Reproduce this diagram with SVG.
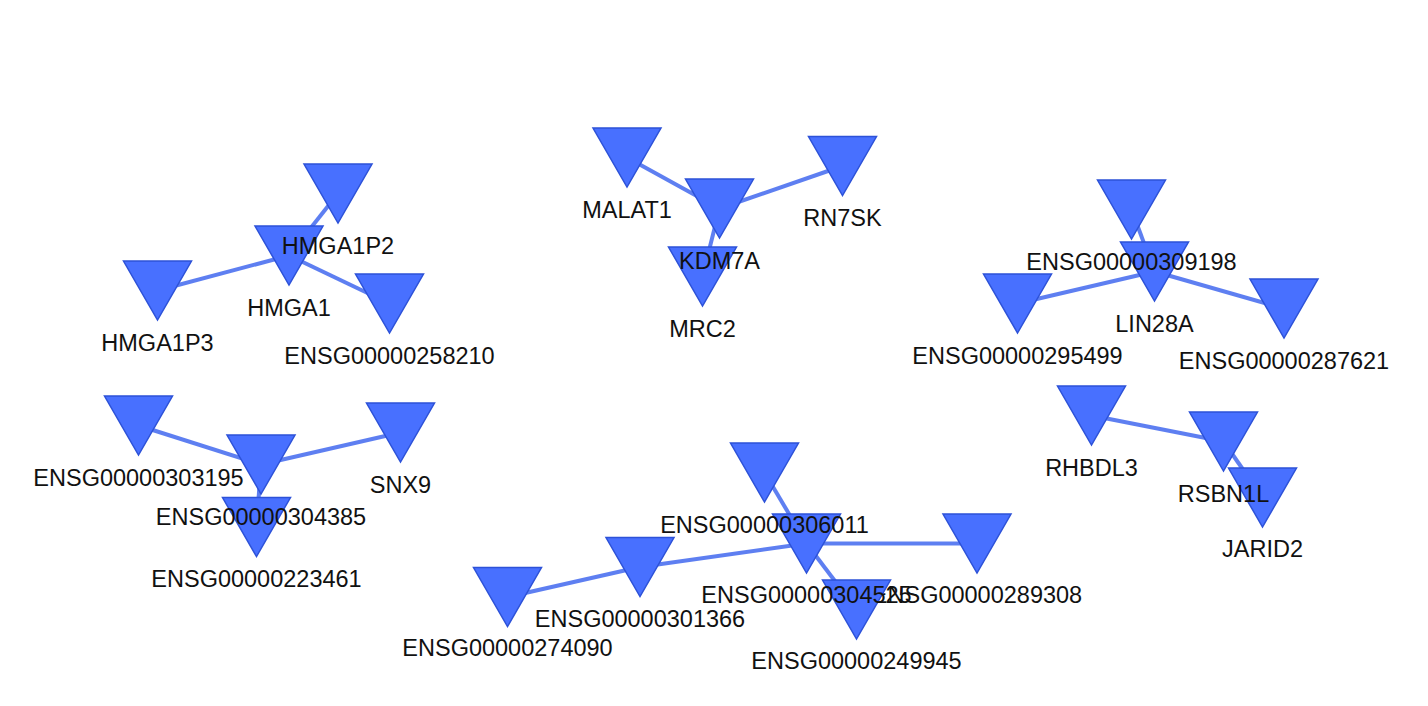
<svg xmlns="http://www.w3.org/2000/svg" xmlns:xlink="http://www.w3.org/1999/xlink" width="1428" height="706" viewBox="0 0 1428 706">
<style>
.edge{stroke:#5578f0;stroke-width:4;stroke-linecap:butt;fill:none;opacity:0.95}
.tri{fill:#4870ff;stroke:#2d52d8;stroke-width:1.5;stroke-linejoin:miter}
.lbl{font-family:"Liberation Sans",Arial,sans-serif;font-size:23.5px;fill:#111;text-anchor:middle}
</style>
<defs>
<path id="tri" d="M-34,-29.5 L34,-29.5 L0,29.5 Z"/>
</defs>
<rect width="1428" height="706" fill="#ffffff"/>
<g id="connectors">
<line class="edge" x1="289" y1="255.5" x2="338" y2="193.5"/>
<line class="edge" x1="289" y1="255.5" x2="157.5" y2="290.5"/>
<line class="edge" x1="289" y1="255.5" x2="389.5" y2="303.5"/>
<line class="edge" x1="719.5" y1="208.5" x2="627" y2="157.5"/>
<line class="edge" x1="719.5" y1="208.5" x2="842.5" y2="166"/>
<line class="edge" x1="719.5" y1="208.5" x2="702.5" y2="276.5"/>
<line class="edge" x1="1154.5" y1="271.5" x2="1131.5" y2="209.5"/>
<line class="edge" x1="1154.5" y1="271.5" x2="1017.5" y2="303.5"/>
<line class="edge" x1="1154.5" y1="271.5" x2="1284" y2="308.5"/>
<line class="edge" x1="261" y1="464.5" x2="138.5" y2="425.5"/>
<line class="edge" x1="261" y1="464.5" x2="400.5" y2="432.5"/>
<line class="edge" x1="261" y1="464.5" x2="256.5" y2="527"/>
<line class="edge" x1="806.5" y1="543.5" x2="764.5" y2="472.5"/>
<line class="edge" x1="806.5" y1="543.5" x2="977" y2="543.5"/>
<line class="edge" x1="806.5" y1="543.5" x2="856.5" y2="609.5"/>
<line class="edge" x1="806.5" y1="543.5" x2="640" y2="567"/>
<line class="edge" x1="640" y1="567" x2="507.5" y2="597"/>
<line class="edge" x1="1223.5" y1="441.5" x2="1091.5" y2="415.5"/>
<line class="edge" x1="1223.5" y1="441.5" x2="1262.5" y2="497.5"/>
</g>
<g id="n-HMGA1"><use href="#tri" class="tri" x="289" y="255.5"/><text class="lbl" x="289" y="315.5">HMGA1</text></g>
<g id="n-HMGA1P2"><use href="#tri" class="tri" x="338" y="193.5"/><text class="lbl" x="338" y="253.5">HMGA1P2</text></g>
<g id="n-HMGA1P3"><use href="#tri" class="tri" x="157.5" y="290.5"/><text class="lbl" x="157.5" y="350.5">HMGA1P3</text></g>
<g id="n-ENSG00000258210"><use href="#tri" class="tri" x="389.5" y="303.5"/><text class="lbl" x="389.5" y="363.5">ENSG00000258210</text></g>
<g id="n-MALAT1"><use href="#tri" class="tri" x="627" y="157.5"/><text class="lbl" x="627" y="217.5">MALAT1</text></g>
<g id="n-RN7SK"><use href="#tri" class="tri" x="842.5" y="166"/><text class="lbl" x="842.5" y="226">RN7SK</text></g>
<g id="n-MRC2"><use href="#tri" class="tri" x="702.5" y="276.5"/><text class="lbl" x="702.5" y="336.5">MRC2</text></g>
<g id="n-KDM7A"><use href="#tri" class="tri" x="719.5" y="208.5"/><text class="lbl" x="719.5" y="268.5">KDM7A</text></g>
<g id="n-LIN28A"><use href="#tri" class="tri" x="1154.5" y="271.5"/><text class="lbl" x="1154.5" y="331.5">LIN28A</text></g>
<g id="n-ENSG00000309198"><use href="#tri" class="tri" x="1131.5" y="209.5"/><text class="lbl" x="1131.5" y="269.5">ENSG00000309198</text></g>
<g id="n-ENSG00000295499"><use href="#tri" class="tri" x="1017.5" y="303.5"/><text class="lbl" x="1017.5" y="363.5">ENSG00000295499</text></g>
<g id="n-ENSG00000287621"><use href="#tri" class="tri" x="1284" y="308.5"/><text class="lbl" x="1284" y="368.5">ENSG00000287621</text></g>
<g id="n-ENSG00000303195"><use href="#tri" class="tri" x="138.5" y="425.5"/><text class="lbl" x="138.5" y="485.5">ENSG00000303195</text></g>
<g id="n-SNX9"><use href="#tri" class="tri" x="400.5" y="432.5"/><text class="lbl" x="400.5" y="492.5">SNX9</text></g>
<g id="n-ENSG00000223461"><use href="#tri" class="tri" x="256.5" y="527"/><text class="lbl" x="256.5" y="587">ENSG00000223461</text></g>
<g id="n-ENSG00000304385"><use href="#tri" class="tri" x="261" y="464.5"/><text class="lbl" x="261" y="524.5">ENSG00000304385</text></g>
<g id="n-ENSG00000274090"><use href="#tri" class="tri" x="507.5" y="597"/><text class="lbl" x="507.5" y="656">ENSG00000274090</text></g>
<g id="n-ENSG00000301366"><use href="#tri" class="tri" x="640" y="567"/><text class="lbl" x="640" y="626.5">ENSG00000301366</text></g>
<g id="n-ENSG00000289308"><use href="#tri" class="tri" x="977" y="543.5"/><text class="lbl" x="977" y="602.5">ENSG00000289308</text></g>
<g id="n-ENSG00000249945"><use href="#tri" class="tri" x="856.5" y="609.5"/><text class="lbl" x="856.5" y="668.5">ENSG00000249945</text></g>
<g id="n-ENSG00000304525"><use href="#tri" class="tri" x="806.5" y="543.5"/><text class="lbl" x="806.5" y="602.5">ENSG00000304525</text></g>
<g id="n-ENSG00000306011"><use href="#tri" class="tri" x="764.5" y="472.5"/><text class="lbl" x="764.5" y="532.5">ENSG00000306011</text></g>
<g id="n-RHBDL3"><use href="#tri" class="tri" x="1091.5" y="415.5"/><text class="lbl" x="1091.5" y="475.5">RHBDL3</text></g>
<g id="n-JARID2"><use href="#tri" class="tri" x="1262.5" y="497.5"/><text class="lbl" x="1262.5" y="557">JARID2</text></g>
<g id="n-RSBN1L"><use href="#tri" class="tri" x="1223.5" y="441.5"/><text class="lbl" x="1223.5" y="501.5">RSBN1L</text></g>
</svg>
